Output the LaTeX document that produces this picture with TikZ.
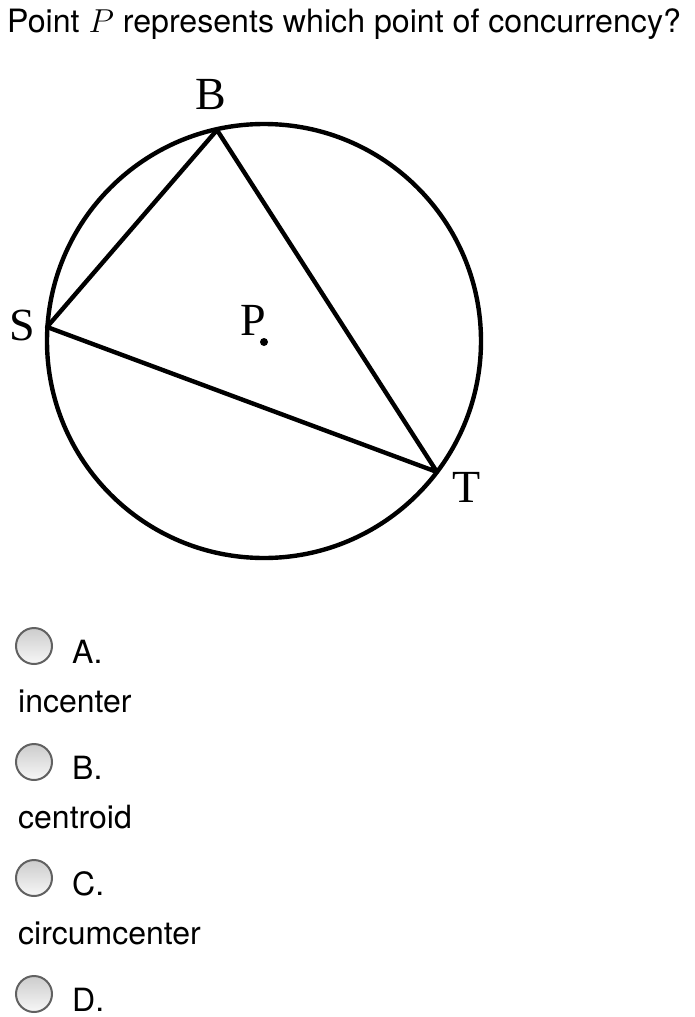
\documentclass[tikz,border=0pt]{standalone}
\usepackage{fontspec}
\setmainfont{Liberation Serif}
\newfontfamily\uifont{TeX Gyre Heros}
\begin{document}
\begin{tikzpicture}
        [x=0.75pt,y=-0.75pt,line width=3.3pt,
         vertex/.style={inner sep=0pt,font=\fontsize{34.5}{38}\selectfont},
         radio/.style={circle,draw=black!62,line width=1.5pt,minimum size=27pt,inner sep=0pt,
                       top color=black!20,bottom color=black!3},
         ui/.style={anchor=base west,inner sep=0pt,font=\uifont\fontsize{24}{28}\selectfont}]
        \useasboundingbox (0,0) rectangle (695,1017);
        %Question
        \node[ui,font=\uifont\fontsize{24.1}{28}\selectfont] (Q) at (5,32)
             {Point \(P\) represents which point of concurrency?};

        %Circle and triangle
        \coordinate (O) at (264,341);
        \coordinate (B) at (217,130);
        \coordinate (S) at (47,327);
        \coordinate (T) at (437,472);
        \coordinate (P) at (264,342);
        \draw (O) circle [radius=217];
        \draw[line join=round] (B) -- (S) -- (T) -- cycle;
        \fill (P) circle [radius=4];
        \node[vertex] (LB) at (211,95)  {B};
        \node[vertex] (LS) at (22,325)  {S};
        \node[vertex] (LT) at (467,487) {T};
        \node[vertex] (LP) at (253,320) {P};

        %Choices
        \foreach \lab [count=\i from 0] in {A,B,C,D}
        {
          \node[radio] (R\lab) at (34,646+116*\i) {};
          \node[ui]    (L\lab) at (70,663+116*\i) {\lab.};
        }
        \foreach \word [count=\i from 0] in {incenter,centroid,circumcenter}
          \node[ui] (W\i) at (16,712+116*\i) {\word};
\end{tikzpicture}
\end{document}
